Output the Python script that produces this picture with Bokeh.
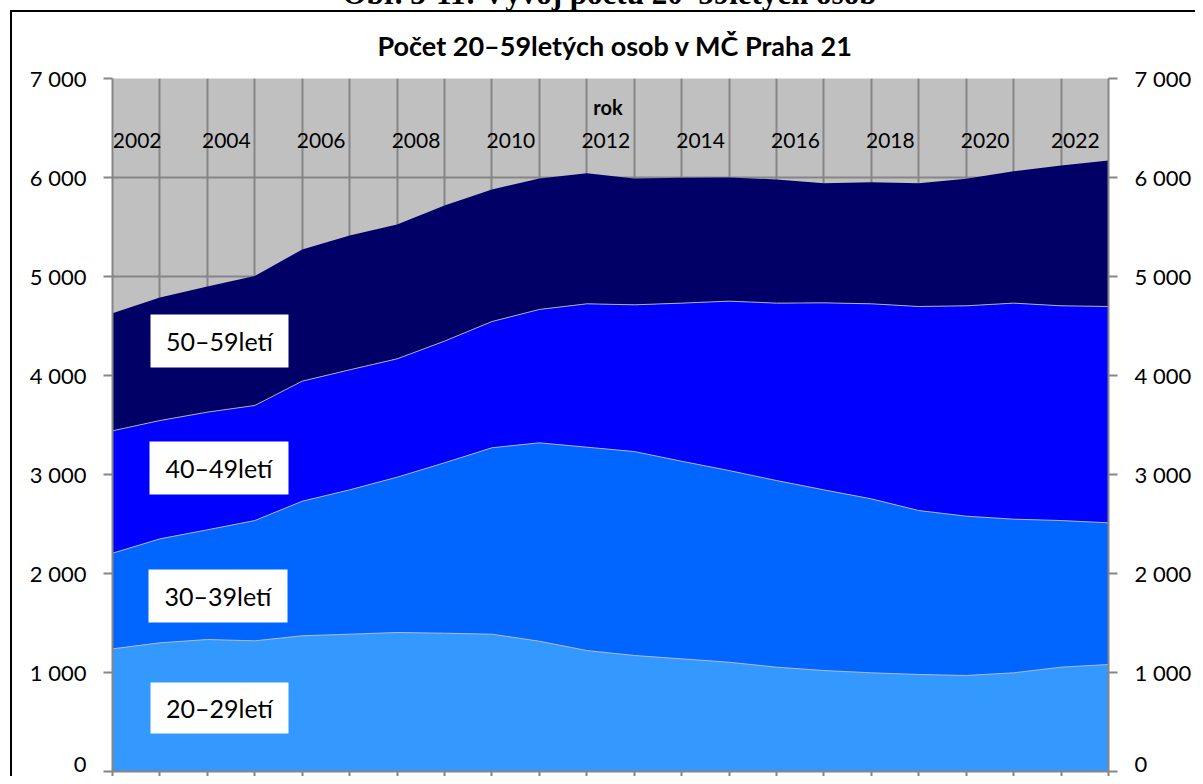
from bokeh.plotting import figure
from bokeh.models import (ColumnDataSource, FixedTicker, LinearAxis, Range1d,
                          BoxAnnotation, Label, Title)
from bokeh.core.properties import value
from bokeh.embed import file_html
from bokeh.resources import INLINE

# ---------------- data ----------------
years = list(range(2002, 2024))
age_20_29 = [1239, 1300, 1333, 1320, 1371, 1387, 1404, 1397, 1387, 1316, 1222,
             1172, 1138, 1104, 1054, 1020, 997, 980, 970, 997, 1054, 1081]
age_30_39 = [966, 1050, 1108, 1215, 1359, 1458, 1569, 1721, 1883, 2004, 2054,
             2060, 1996, 1936, 1885, 1825, 1757, 1656, 1609, 1552, 1481, 1431]
age_40_49 = [1236, 1195, 1189, 1162, 1213, 1212, 1195, 1229, 1275, 1347, 1448,
             1482, 1597, 1711, 1792, 1889, 1970, 2061, 2125, 2182, 2169, 2185]
age_50_59 = [1189, 1243, 1270, 1308, 1330, 1357, 1357, 1370, 1334, 1323, 1320,
             1276, 1266, 1249, 1249, 1209, 1229, 1246, 1283, 1333, 1417, 1475]

group_names = ["20–29letí", "30–39letí", "40–49letí", "50–59letí"]
group_keys = ["a20", "a30", "a40", "a50"]
group_colors = ["#3399FF", "#0066FF", "#0000FF", "#000066"]

year_labels = ["2002", "2004", "2006", "2008", "2010", "2012",
               "2014", "2016", "2018", "2020", "2022"]
y_ticks = [0, 1000, 2000, 3000, 4000, 5000, 6000, 7000]
y_tick_labels = ["0", "1 000", "2 000", "3 000", "4 000", "5 000", "6 000", "7 000"]

title_text = "Počet 20–59letých osob v MČ Praha 21"
caption_text = "Obr. 3-11: Vývoj počtu 20–59letých osob"
x_title = "rok"

# ---------------- layout ----------------
S = 30                      # canvas starts S px above the picture's top edge
W, H = 1195, 776 + S
FL, FR, FT, FB = 112, 1108, 78, 771   # plot frame in picture pixels
X0, X1 = years[0], years[-1]
Y0, Y1 = 0, 7000


def xd(px):
    return X0 + (px - FL) * (X1 - X0) / (FR - FL)


def yd(py):
    return Y0 + (FB - py) * (Y1 - Y0) / (FB - FT)


FONT = "Lato"
GRID = "#868686"

page_css = {
    "margin-top": f"-{S}px",
    "margin-bottom": "-8px",
    "background-image": "linear-gradient(#000000, #000000), linear-gradient(#000000, #000000)",
    "background-size": f"2px {H - 10 - S}px, {W - 10}px 2px",
    "background-position": f"10px {10 + S}px, 10px {10 + S}px",
    "background-repeat": "no-repeat, no-repeat",
}

src = ColumnDataSource(dict(year=years, a20=age_20_29, a30=age_30_39,
                            a40=age_40_49, a50=age_50_59))

p = figure(width=W, height=H, output_backend="svg", toolbar_location=None,
           title=None, x_range=Range1d(X0, X1), y_range=Range1d(Y0, Y1),
           min_border_left=FL, min_border_right=W - FR,
           min_border_top=FT + S, min_border_bottom=776 - FB,
           background_fill_color="#C0C0C0", border_fill_alpha=0,
           outline_line_color=None, styles=page_css)

p.varea_stack(stackers=group_keys, x="year", color=group_colors, source=src)
p.vline_stack(stackers=group_keys[:3], x="year", source=src,
              line_color="#BEBEBE", line_width=1, line_alpha=0.9)

# grid
p.xgrid.ticker = FixedTicker(ticks=years)
p.ygrid.ticker = FixedTicker(ticks=y_ticks)
for g in (p.xgrid, p.ygrid):
    g.grid_line_color = GRID
    g.grid_line_width = 2

overrides = {t: l for t, l in zip(y_ticks, y_tick_labels)}

ya = p.yaxis[0]
ya.ticker = FixedTicker(ticks=y_ticks)
ya.major_label_overrides = overrides
right = LinearAxis(ticker=FixedTicker(ticks=y_ticks), major_label_overrides=overrides)
p.add_layout(right, "right")
for ax in (ya, right):
    ax.axis_line_color = GRID
    ax.axis_line_width = 2
    ax.major_tick_line_color = GRID
    ax.major_tick_line_width = 2
    ax.major_tick_out = 9
    ax.major_tick_in = 0
    ax.minor_tick_line_color = None
    ax.major_label_standoff = 17
    ax.major_label_text_font = FONT
    ax.major_label_text_font_size = "22px"
    ax.major_label_text_color = "black"

xa = p.xaxis[0]
xa.ticker = FixedTicker(ticks=years)
xa.axis_line_color = GRID
xa.axis_line_width = 2
xa.major_tick_line_color = GRID
xa.major_tick_line_width = 2
xa.major_tick_out = 5
xa.major_tick_in = 0
xa.minor_tick_line_color = None
xa.major_label_text_font_size = "0px"
xa.major_label_text_color = None
xa.major_label_standoff = 0


# year labels inside the grey area (category labels of the chart)
def lab_off(s):
    if s == year_labels[0]:
        return 0.52
    if s == year_labels[-1]:
        return 0.30
    return 0.40


lab_x = [int(s) + lab_off(s) for s in year_labels]
p.text(x=lab_x, y=[yd(140)] * len(year_labels), text=year_labels,
       text_font=value(FONT), text_font_size="21px", text_align="center",
       text_baseline="middle", text_color="black")

p.add_layout(Label(x=xd(607.5), y=yd(106), text=x_title, text_font=FONT,
                   text_font_style="bold", text_font_size="20px",
                   text_color="black", text_align="center", text_baseline="middle"))

# chart title (next to the frame) and the caption above it, cut by the top edge
p.add_layout(Title(text=title_text, text_font=FONT, text_font_style="bold",
                   text_font_size="27px", text_color="black",
                   align="left", offset=377 - FL,
                   vertical_align="bottom", standoff=34), "above")
p.add_layout(Title(text=caption_text, text_font="Liberation Serif",
                   text_font_style="bold", text_font_size="31px", text_color="black",
                   align="left", offset=342 - FL,
                   vertical_align="bottom", standoff=-2), "above")

# white label boxes
boxes = [(150, 288, 682, 733), (148, 287, 569, 622),
         (149, 288, 441, 494), (150, 288, 314, 367)]
for name, (l, r, t, b) in zip(group_names, boxes):
    p.add_layout(BoxAnnotation(left=xd(l), right=xd(r), top=yd(t), bottom=yd(b),
                               fill_color="white", fill_alpha=1, line_color=None))
    p.add_layout(Label(x=xd((l + r) / 2), y=yd((t + b) / 2), text=name,
                       text_font=FONT, text_font_size="25px",
                       text_align="center", text_baseline="middle",
                       text_color="black"))

open("out.html", "w").write(file_html(p, INLINE))
